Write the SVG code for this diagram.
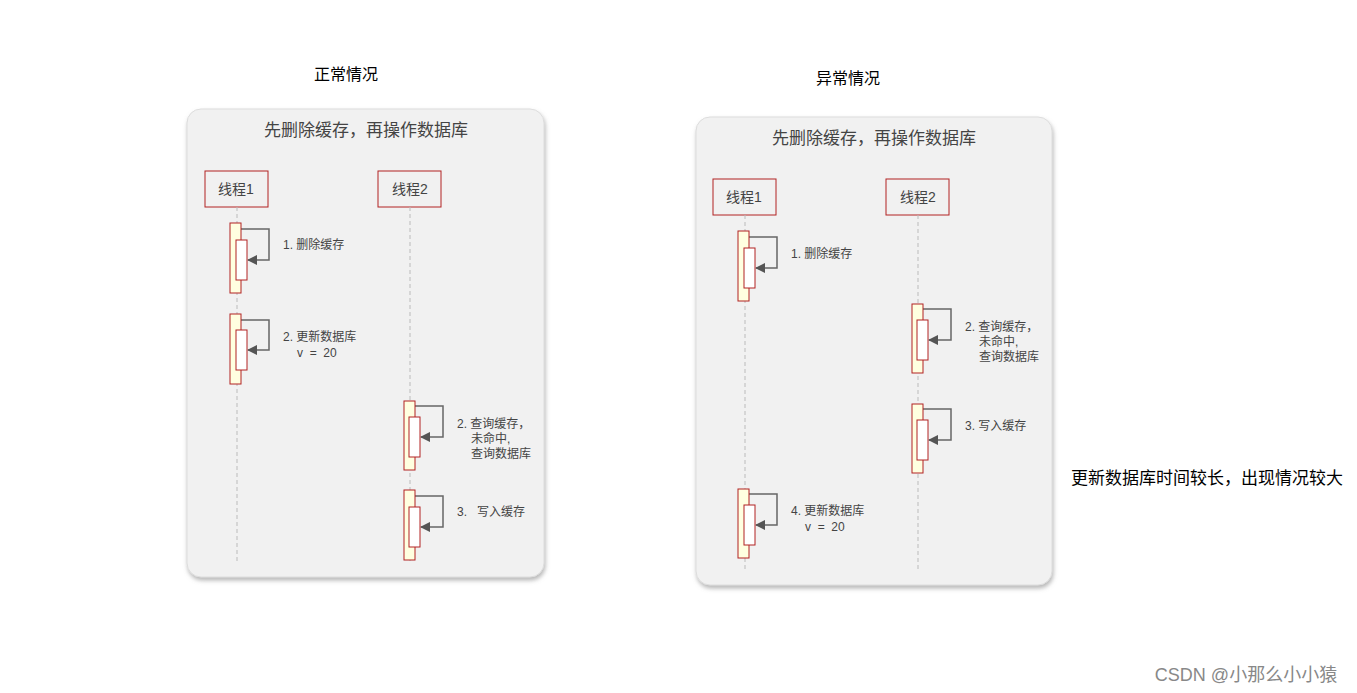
<svg xmlns="http://www.w3.org/2000/svg" width="1357" height="693" viewBox="0 0 1357 693">
<style>
.t{font-family:"Liberation Sans","Noto Sans CJK SC",sans-serif;fill:#444}
.s{font-size:12px}
.panel{fill:#f1f1f1;stroke:#ddd;stroke-width:1}
.box{fill:#f1f1f1;stroke:#b22222;stroke-width:1}
.life{stroke:#bbb;stroke-dasharray:4,3;fill:none}
.outer{fill:#ffffe0;stroke:#b22222}
.inner{fill:#fff;stroke:#b22222}
.loop{fill:none;stroke:#666;stroke-width:1.5;marker-end:url(#ah)}
</style>
<defs>
<marker id="ah" viewBox="0 0 10 10" refX="9" refY="5" markerWidth="7" markerHeight="7" orient="auto"><path d="M0,0L10,5L0,10z" fill="#555"/></marker>
<filter id="sh" x="-5%" y="-5%" width="110%" height="110%"><feDropShadow dx="1" dy="3" stdDeviation="2" flood-color="#888" flood-opacity="0.6"/></filter>
</defs>
<rect width="1357" height="693" fill="#fff"/>
<text x="346" y="80" text-anchor="middle" font-size="16" font-family="Liberation Sans,Noto Sans CJK SC,sans-serif" fill="#000">正常情况</text>
<text x="848" y="84" text-anchor="middle" font-size="16" font-family="Liberation Sans,Noto Sans CJK SC,sans-serif" fill="#000">异常情况</text>
<text x="1207" y="484" text-anchor="middle" font-size="17" font-family="Liberation Sans,Noto Sans CJK SC,sans-serif" fill="#000">更新数据库时间较长，出现情况较大</text>
<text x="1246" y="681" text-anchor="middle" font-size="18" font-family="Liberation Sans,Noto Sans CJK SC,sans-serif" fill="#888">CSDN @小那么小小猿</text>
<g id="left">
<rect class="panel" x="187" y="109" width="357" height="468" rx="14" filter="url(#sh)"/>
<text class="t" x="366" y="136" text-anchor="middle" font-size="17" fill="#555">先删除缓存，再操作数据库</text>
<g id="L-t1"><rect class="box" x="205" y="171" width="63" height="36"/><text class="t" x="236" y="194" text-anchor="middle" font-size="14">线程1</text></g>
<g id="L-t2"><rect class="box" x="378" y="171" width="63" height="36"/><text class="t" x="410" y="194" text-anchor="middle" font-size="14">线程2</text></g>
<g id="L-conn">
<line class="life" x1="237" y1="207" x2="237" y2="562"/>
<line class="life" x1="410" y1="207" x2="410" y2="562"/>
<path class="loop" d="M241,229H269V260H248"/>
<path class="loop" d="M241,320H269V350H248"/>
<path class="loop" d="M415,406H443V437H421"/>
<path class="loop" d="M415,496H443V527H421"/>
</g>
<g id="L-a1"><rect class="outer" x="230" y="223" width="11" height="70"/><rect class="inner" x="236" y="240" width="11" height="40"/><text class="t s" x="283" y="249">1. 删除缓存</text></g>
<g id="L-a2"><rect class="outer" x="230" y="314" width="11" height="70"/><rect class="inner" x="236" y="330" width="11" height="40"/><text class="t s" x="283" y="341">2. 更新数据库</text><text class="t s" x="297" y="357">v&#160;&#160;=&#160;&#160;20</text></g>
<g id="L-a3"><rect class="outer" x="404" y="401" width="11" height="69"/><rect class="inner" x="409" y="417" width="11" height="40"/><text class="t s" x="457" y="428">2. 查询缓存，</text><text class="t s" x="471" y="443">未命中,</text><text class="t s" x="471" y="458">查询数据库</text></g>
<g id="L-a4"><rect class="outer" x="404" y="490" width="11" height="70"/><rect class="inner" x="409" y="507" width="11" height="40"/><text class="t s" x="457" y="516">3.&#160;&#160;&#160;写入缓存</text></g>
</g>
<g id="right">
<rect class="panel" x="696" y="117" width="356" height="468" rx="14" filter="url(#sh)"/>
<text class="t" x="874" y="144" text-anchor="middle" font-size="17" fill="#555">先删除缓存，再操作数据库</text>
<g id="R-t1"><rect class="box" x="713" y="179" width="63" height="36"/><text class="t" x="744" y="202" text-anchor="middle" font-size="14">线程1</text></g>
<g id="R-t2"><rect class="box" x="886" y="179" width="63" height="36"/><text class="t" x="918" y="202" text-anchor="middle" font-size="14">线程2</text></g>
<g id="R-conn">
<line class="life" x1="745" y1="215" x2="745" y2="570"/>
<line class="life" x1="918" y1="215" x2="918" y2="570"/>
<path class="loop" d="M749,237H777V268H756"/>
<path class="loop" d="M923,309H951V340H929"/>
<path class="loop" d="M923,409H951V440H929"/>
<path class="loop" d="M749,494H777V525H756"/>
</g>
<g id="R-a1"><rect class="outer" x="738" y="231" width="11" height="70"/><rect class="inner" x="744" y="248" width="11" height="40"/><text class="t s" x="791" y="258">1. 删除缓存</text></g>
<g id="R-a2"><rect class="outer" x="912" y="304" width="11" height="69"/><rect class="inner" x="917" y="320" width="11" height="40"/><text class="t s" x="965" y="331">2. 查询缓存，</text><text class="t s" x="979" y="346">未命中,</text><text class="t s" x="979" y="361">查询数据库</text></g>
<g id="R-a3"><rect class="outer" x="912" y="404" width="11" height="69"/><rect class="inner" x="917" y="420" width="11" height="40"/><text class="t s" x="965" y="430">3. 写入缓存</text></g>
<g id="R-a4"><rect class="outer" x="738" y="489" width="11" height="69"/><rect class="inner" x="744" y="505" width="11" height="40"/><text class="t s" x="791" y="515">4. 更新数据库</text><text class="t s" x="805" y="531">v&#160;&#160;=&#160;&#160;20</text></g>
</g>
</svg>
